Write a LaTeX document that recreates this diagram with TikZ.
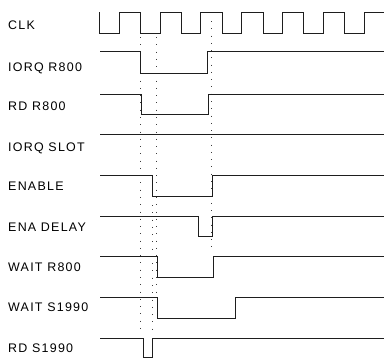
\documentclass[tikz,border=0pt]{standalone}
\usepackage{fontspec}
\setmainfont{Liberation Sans}[LetterSpace=10]
\usepackage{xcolor}
\usepackage{tikz}
\usetikzlibrary{arrows.meta, positioning, calc}
\definecolor{waveink}{RGB}{30, 30, 30}
\definecolor{guideink}{RGB}{60, 60, 60}

\begin{document}
\begin{tikzpicture}[x=1bp, y=-1bp,
    wave/.style={line width=1pt, waveink, line join=miter},
    guide/.style={line width=0.9pt, guideink, dash pattern=on 0.9pt off 6.4pt},
    signame/.style={anchor=base west, inner sep=0pt, font=\fontsize{12.5}{14}\selectfont}]
    \useasboundingbox (0,0) rectangle (384,359);

    % signal names
    \node[signame] (lclk)    at (8,29.6)  {CLK};
    \node[signame] (liorq)   at (8,71.2)  {IORQ R800};
    \node[signame] (lrd)     at (8,110.5) {RD R800};
    \node[signame] (lslot)   at (8,151.2) {IORQ SLOT};
    \node[signame] (lena)    at (8,190.2) {ENABLE};
    \node[signame] (ldelay)  at (8,231.5) {ENA DELAY};
    \node[signame] (lwait)   at (8,271.2) {WAIT R800};
    \node[signame] (lwaits)  at (8,311.5) {WAIT S1990};
    \node[signame] (lrds)    at (8,352.5) {RD S1990};

    % dotted guide lines
    \draw[guide] (140.5,37) -- (140.5,332);
    \draw[guide] (156,37) -- (156,292);
    \draw[guide] (152,205) -- (152,332);
    \draw[guide] (211.5,21) -- (211.5,252);

    % clock
    \draw[wave] (99,12) -- (99,33)
        foreach \k in {0,...,5} {
            -- ({119.3+40.8*\k},33) -- ({119.3+40.8*\k},12)
            -- ({140.6+40.8*\k},12) -- ({140.6+40.8*\k},33) }
        -- (364.1,33) -- (364.1,12) -- (384,12);

    % waveforms
    \draw[wave] (100,51) -- (140,51) -- (140,73) -- (207,73) -- (207,51) -- (384,51);
    \draw[wave] (100,94) -- (141.5,94) -- (141.5,114) -- (208,114) -- (208,94) -- (384,94);
    \draw[wave] (100,134.5) -- (384,134.5);
    \draw[wave] (100,175) -- (152,175) -- (152,196) -- (212,196) -- (212,175) -- (384,175);
    \draw[wave] (100,216.5) -- (198.5,216.5) -- (198.5,236.5) -- (212,236.5) -- (212,216.5) -- (384,216.5);
    \draw[wave] (100,256) -- (157.5,256) -- (157.5,277) -- (213,277) -- (213,256) -- (384,256);
    \draw[wave] (100,297) -- (157.5,297) -- (157.5,318) -- (235,318) -- (235,297) -- (384,297);
    \draw[wave] (100,338) -- (143,338) -- (143,357.5) -- (152.5,357.5) -- (152.5,338) -- (384,338);
\end{tikzpicture}
\end{document}
